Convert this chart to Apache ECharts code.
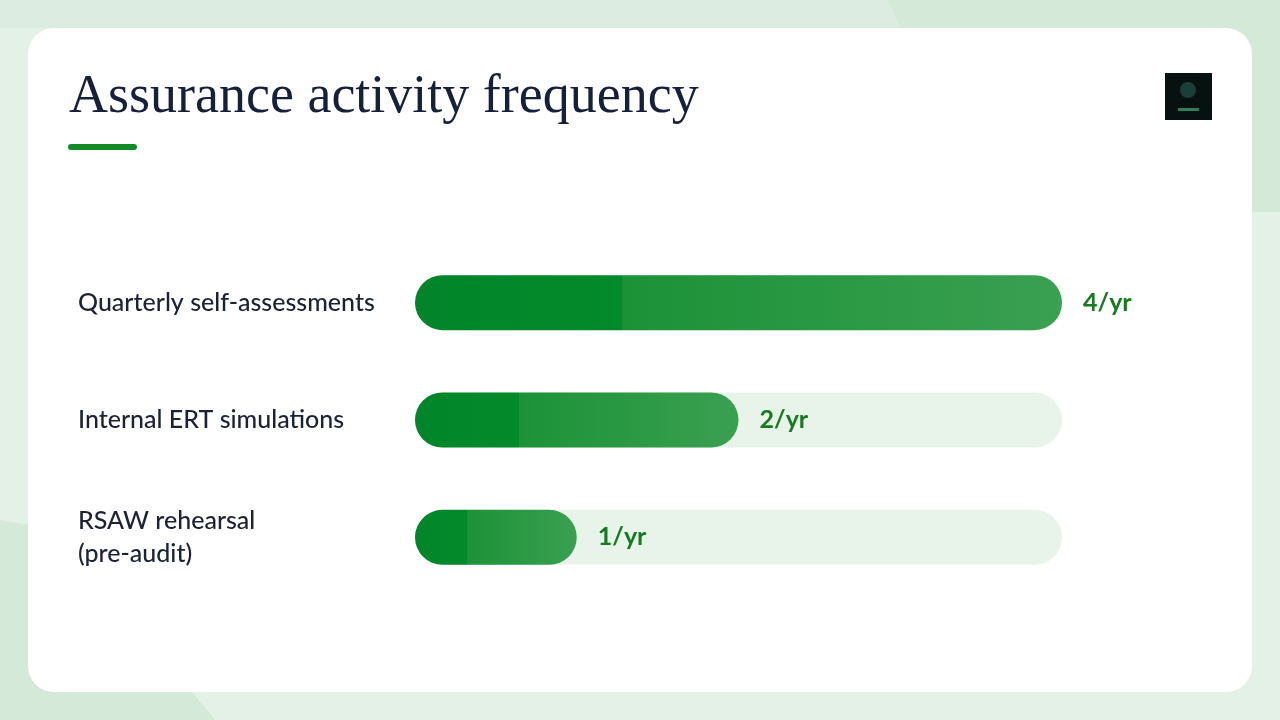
<!DOCTYPE html>
<html>
<head>
<meta charset="utf-8">
<title>Assurance activity frequency</title>
<script src="https://cdn.jsdelivr.net/npm/echarts@6/dist/echarts.min.js"></script>
<style>
  html, body { margin: 0; padding: 0; background: #e4f1e6; }
  #chart { width: 1280px; height: 720px; }
</style>
</head>
<body>
<div id="chart"></div>
<script>
var categories = ['Quarterly self-assessments', 'Internal ERT simulations', 'RSAW rehearsal\n(pre-audit)'];
var perYear = [4, 2, 1];
var axisMax = 4;

var barFill = new echarts.graphic.LinearGradient(0, 0, 1, 0, [
  { offset: 0, color: '#02852a' },
  { offset: 0.32, color: '#038a2a' },
  { offset: 0.321, color: '#1c9237' },
  { offset: 1, color: '#3aa052' }
]);

var chart = echarts.init(document.getElementById('chart'));
chart.setOption({
  animation: false,
  backgroundColor: 'transparent',
  title: {
    text: 'Assurance activity frequency',
    left: 64,
    top: 66,
    textStyle: {
      fontFamily: 'Liberation Serif',
      fontWeight: 'normal',
      fontSize: 54,
      color: '#17203a'
    }
  },
  graphic: [
    // page decoration
    { type: 'polygon', z: -10, shape: { points: [[888, 0], [1280, 0], [1280, 212], [1240, 212], [900, 28]] }, style: { fill: '#d5e9d9' } },
    { type: 'polygon', z: -10, shape: { points: [[0, 0], [888, 0], [900, 28], [0, 28]] }, style: { fill: '#dcece0' } },
    { type: 'polygon', z: -10, shape: { points: [[0, 520], [60, 530], [215, 720], [0, 720]] }, style: { fill: '#d5e9d9' } },
    { type: 'rect', z: -9, shape: { x: 28, y: 28, width: 1224, height: 664, r: 26 }, style: { fill: '#ffffff' } },
    // title underline
    { type: 'rect', shape: { x: 68, y: 144, width: 69, height: 6, r: 3 }, style: { fill: '#138a25' } },
    // logo
    { type: 'rect', shape: { x: 1165, y: 73, width: 47, height: 47 }, style: { fill: '#07110f' } },
    { type: 'circle', shape: { cx: 1188, cy: 90, r: 8 }, style: { fill: '#1f4a44', opacity: 0.8 } },
    { type: 'rect', shape: { x: 1178, y: 108, width: 21, height: 3 }, style: { fill: '#3fae7a', opacity: 0.7 } }
  ],
  grid: {
    left: 415,
    right: 218,
    top: 244,
    bottom: 124,
    containLabel: false
  },
  xAxis: {
    type: 'value',
    min: 0,
    max: axisMax,
    show: false
  },
  yAxis: {
    type: 'category',
    inverse: true,
    data: categories,
    axisLine: { show: false },
    axisTick: { show: false },
    axisLabel: {
      align: 'left',
      margin: 337,
      fontFamily: 'Lato',
      fontSize: 25,
      fontWeight: 500,
      lineHeight: 33,
      color: '#1b2236'
    }
  },
  series: [{
    type: 'bar',
    data: perYear,
    barWidth: 55,
    showBackground: true,
    backgroundStyle: {
      color: '#e8f3ea',
      borderRadius: 28
    },
    itemStyle: {
      color: barFill,
      borderRadius: 28
    },
    label: {
      show: true,
      position: 'right',
      distance: 21,
      formatter: '{c}/yr',
      fontFamily: 'Lato',
      fontWeight: 'bold',
      fontSize: 25,
      color: '#167a1e'
    }
  }]
});
</script>
</body>
</html>
